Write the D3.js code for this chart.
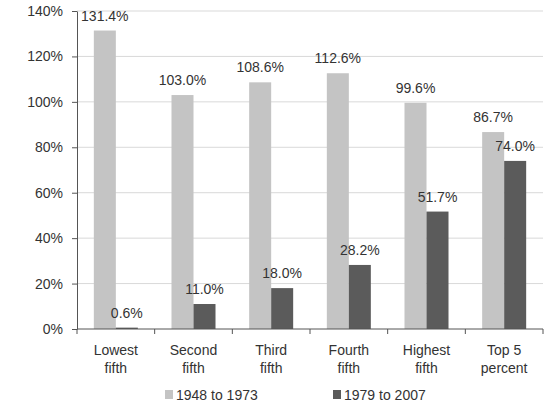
<!DOCTYPE html>
<html>
<head>
<meta charset="utf-8">
<script src="https://cdn.jsdelivr.net/npm/d3@7"></script>
<style>
  body { margin: 0; background: #fff; }
  text { font-family: "Liberation Sans", Arial, sans-serif; fill: #333; }
</style>
</head>
<body>
<div id="chart"></div>
<script>
const categories = [["Lowest", "fifth"], ["Second", "fifth"], ["Third", "fifth"], ["Fourth", "fifth"], ["Highest", "fifth"], ["Top 5", "percent"]];
const early = [131.4, 103.0, 108.6, 112.6, 99.6, 86.7];
const late = [0.6, 11.0, 18.0, 28.2, 51.7, 74.0];
const seriesNames = ["1948 to 1973", "1979 to 2007"];
const yTicks = [0, 20, 40, 60, 80, 100, 120, 140];

const width = 550, height = 406;
const margin = { top: 11, right: 7, bottom: 77, left: 77 };
const chartWidth = width - margin.left - margin.right;
const chartHeight = height - margin.top - margin.bottom;
const colors = ["#c4c4c4", "#5b5b5b"];
const fontSize = "14px";

const svg = d3.select("#chart").append("svg").attr("width", width).attr("height", height);
const g = svg.append("g").attr("transform", `translate(${margin.left},${margin.top})`);

const keys = categories.map((d) => d.join(" "));
const xScale = d3.scaleBand().domain(keys).range([0, chartWidth]);
const yScale = d3.scaleLinear().domain([0, 140]).range([chartHeight, 0]);
const barW = 22;
const inner = d3.scaleBand().domain([0, 1]).range([xScale.bandwidth() / 2 - barW, xScale.bandwidth() / 2 + barW]);

// gridlines
g.selectAll("line.grid")
  .data(yTicks.filter((d) => d > 0))
  .enter()
  .append("line")
  .attr("x1", 0)
  .attr("x2", chartWidth)
  .attr("y1", (d) => yScale(d))
  .attr("y2", (d) => yScale(d))
  .style("stroke", "#d9d9d9")
  .style("stroke-width", 1);

// y axis
const yAxis = g.append("g")
  .call(d3.axisLeft(yScale).tickValues(yTicks).tickFormat((d) => d + "%").tickSize(5).tickSizeOuter(0));
yAxis.select(".domain").style("stroke", "#555");
yAxis.selectAll(".tick line").style("stroke", "#555");
yAxis.selectAll(".tick text").attr("x", -14).style("font-size", fontSize).style("fill", "#333")
  .style("font-family", '"Liberation Sans", Arial, sans-serif');

// bars
const rows = categories.map((c, i) => ({ key: keys[i], values: [early[i], late[i]] }));
const groups = g.selectAll("g.cat")
  .data(rows)
  .enter()
  .append("g")
  .attr("class", "cat")
  .attr("transform", (d) => `translate(${xScale(d.key)},0)`);

groups.selectAll("rect")
  .data((d) => d.values)
  .enter()
  .append("rect")
  .attr("x", (d, i) => inner(i))
  .attr("y", (d) => yScale(d))
  .attr("width", inner.bandwidth())
  .attr("height", (d) => chartHeight - yScale(d))
  .attr("fill", (d, i) => colors[i]);

groups.selectAll("text.value")
  .data((d) => d.values)
  .enter()
  .append("text")
  .attr("class", "value")
  .attr("x", (d, i) => inner(i) + inner.bandwidth() / 2)
  .attr("y", (d) => yScale(d) - 10)
  .text((d) => d.toFixed(1) + "%")
  .style("font-size", fontSize)
  .style("text-anchor", "middle");

// x axis
const xAxisG = g.append("g").attr("transform", `translate(0,${chartHeight})`);
xAxisG.append("line").attr("x1", 0).attr("x2", chartWidth).style("stroke", "#555");
const boundaries = keys.map((k) => xScale(k)).concat([chartWidth]);
xAxisG.selectAll("line.tick")
  .data(boundaries)
  .enter()
  .append("line")
  .attr("x1", (d) => d)
  .attr("x2", (d) => d)
  .attr("y1", 0)
  .attr("y2", 5)
  .style("stroke", "#555");

const catLabels = xAxisG.selectAll("text.cat")
  .data(categories)
  .enter()
  .append("text")
  .attr("x", (d, i) => xScale(keys[i]) + xScale.bandwidth() / 2)
  .attr("y", 26)
  .style("font-size", fontSize)
  .style("text-anchor", "middle");
catLabels.selectAll("tspan")
  .data((d) => d)
  .enter()
  .append("tspan")
  .attr("x", function () { return this.parentNode.getAttribute("x"); })
  .attr("dy", (d, i) => (i === 0 ? 0 : 18))
  .text((d) => d);

// legend
const legendX = [165, 333];
const legend = svg.selectAll("g.legend")
  .data(seriesNames)
  .enter()
  .append("g")
  .attr("transform", (d, i) => `translate(${legendX[i]},${height - 6})`);
legend.append("rect").attr("x", 0).attr("y", -10).attr("width", 8).attr("height", 9).attr("fill", (d, i) => colors[i]);
legend.append("text").attr("x", 11).attr("y", 0).text((d) => d).style("font-size", fontSize);
</script>
</body>
</html>
